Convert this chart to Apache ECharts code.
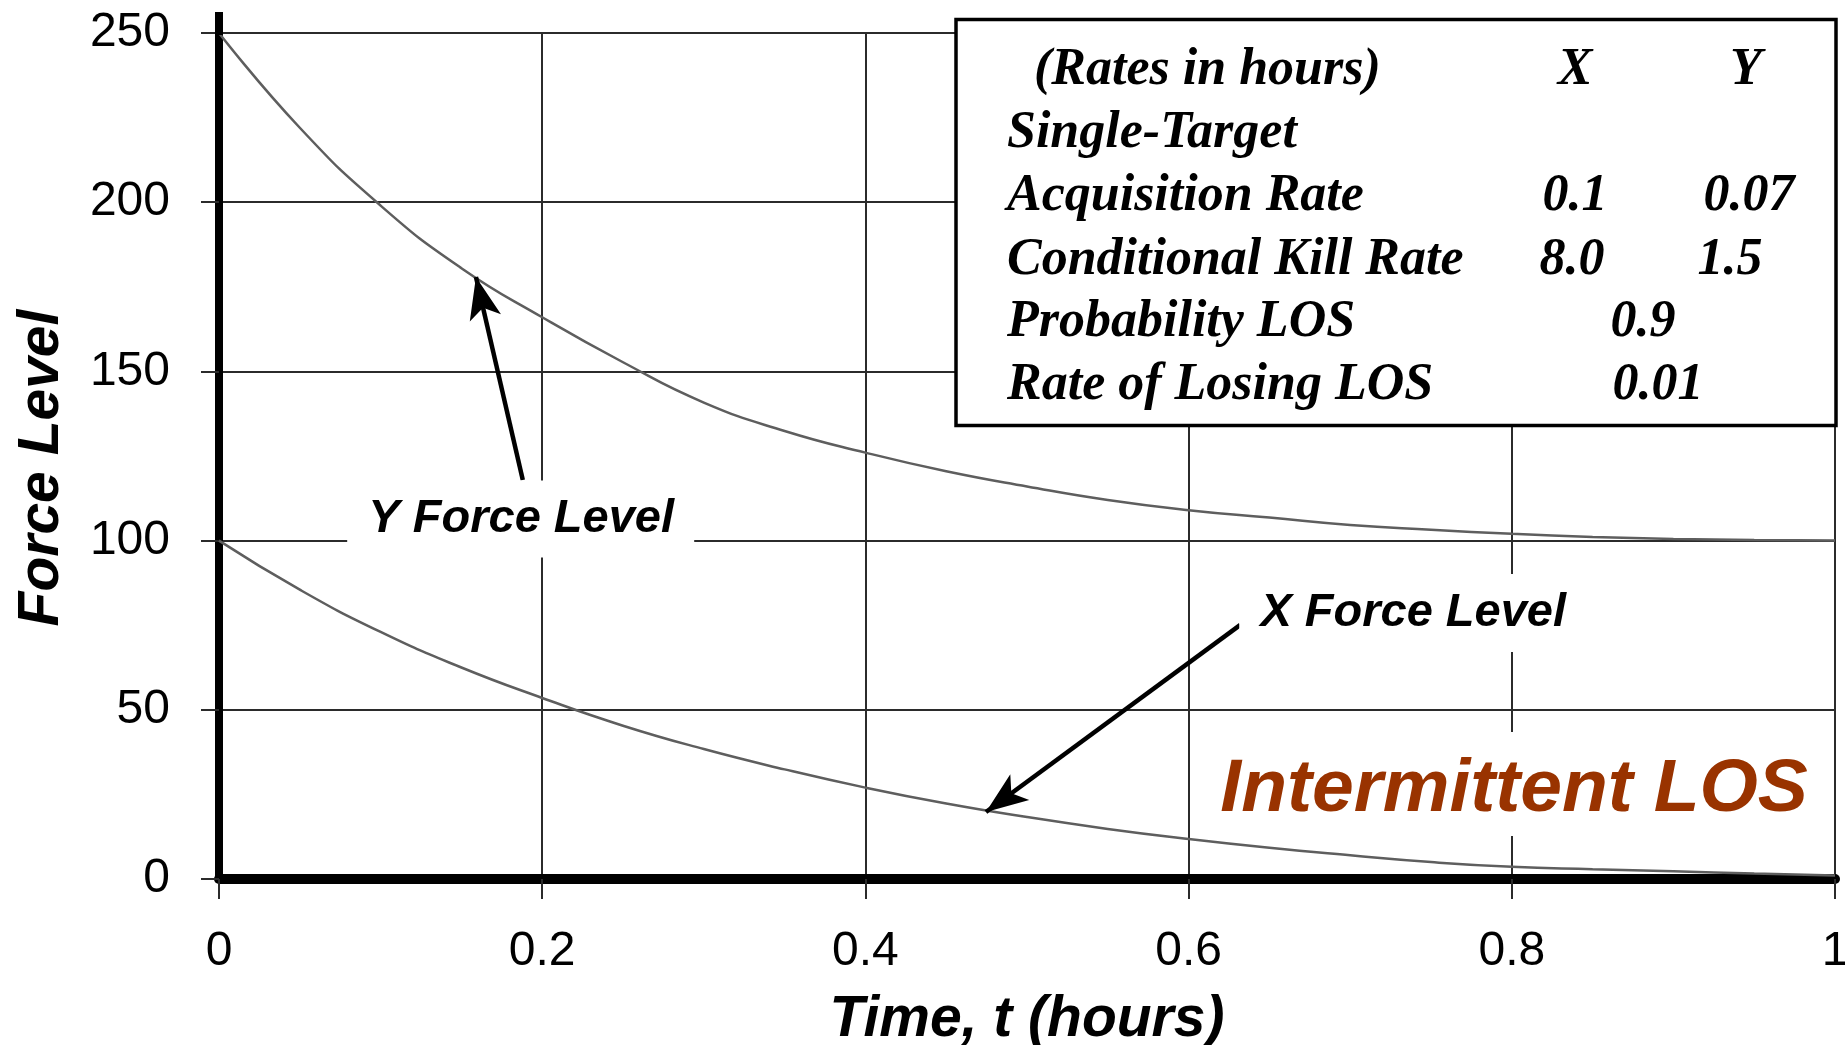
<!DOCTYPE html>
<html><head><meta charset="utf-8">
<script src="https://cdn.jsdelivr.net/npm/echarts@6/dist/echarts.min.js"></script>
<style>html,body{margin:0;padding:0;background:#fff}#c{width:1845px;height:1045px}</style>
</head><body><div id="c"></div>
<script>
// ---- data ----
const timeHours = [0,0.05,0.10,0.15,0.20,0.25,0.30,0.35,0.40,0.45,0.50,0.55,0.60,0.65,0.70,0.75,0.80,0.85,0.90,0.95,1.00];
const yForceLevel = [250,222,199,180.5,166,152.7,140.8,132.4,126,120.5,116,112,109,106.8,104.6,103.2,102,101.1,100.5,100.2,100];
const xForceLevel = [100,85.5,73,62.5,53.5,45.3,38.4,32.4,27,22.3,18.3,14.8,11.8,9.2,7,5,3.6,2.9,2.3,1.6,1];
const xTickLabels = ['0','0.2','0.4','0.6','0.8','1'];
const yTickLabels = ['0','50','100','150','200','250'];
const tableLabels = ['(Rates in hours)','Single-Target','Acquisition Rate','Conditional Kill Rate','Probability LOS','Rate of Losing LOS'];
const tableXCol = ['X','','0.1','8.0','',''];
const tableYCol = ['Y','','0.07','1.5','',''];
const tableShared = ['','','','','0.9','0.01'];
// annotation anchors in data coordinates [t, level]
const yArrow = [[0.188,117.9],[0.159,177.9]];
const xArrow = [[0.632,75.1],[0.4746,19.8]];
const yNoteAt = [0.187,106.5];
const xNoteAt = [0.739,78.6];
const losNoteAt = [0.8014,26.3];

// ---- layout / style ----
const SANS = '"Liberation Sans", Arial, sans-serif';
const SERIF = '"Liberation Serif", "Times New Roman", serif';
const gridColor = '#2b2b2b';
const tableLayout = {
  box: {x:956, y:19.5, w:880, h:406},
  labelX: [1034,1007,1007,1007,1007,1007],
  rowY: [71,134,197,261,323,386],
  xColX: [1575,0,1575,1572,0,0],
  yColX: [1746,0,1749,1730,0,0],
  sharedX: [0,0,0,0,1643,1658]
};

const chart = echarts.init(document.getElementById('c'), null, {renderer:'canvas'});
const pair = (xs, ys) => xs.map((t,i)=>[t, ys[i]]);

chart.setOption({
  animation:false,
  backgroundColor:'#fff',
  grid:{left:219, right:10, top:33, bottom:166, containLabel:false, outerBoundsMode:'none'},
  xAxis:{
    type:'value', min:0, max:1, interval:0.2,
    name:'Time, t (hours)', nameLocation:'middle', nameGap:113,
    nameTextStyle:{fontFamily:SANS, fontSize:57, fontStyle:'italic', fontWeight:'bold', color:'#000'},
    axisLine:{show:true, onZero:false, lineStyle:{color:'#000', width:10}},
    axisTick:{show:true, length:20, lineStyle:{color:gridColor, width:2}},
    axisLabel:{margin:49, fontFamily:SANS, fontSize:48, color:'#000',
      formatter:(v)=>{const i=Math.round(v/0.2); return xTickLabels[i]!==undefined?xTickLabels[i]:'';}},
    splitLine:{show:true, lineStyle:{color:gridColor, width:2}}
  },
  yAxis:{
    type:'value', min:0, max:250, interval:50,
    name:'Force Level', nameLocation:'middle', nameGap:148, nameRotate:90,
    nameTextStyle:{fontFamily:SANS, fontSize:57, fontStyle:'italic', fontWeight:'bold', color:'#000', padding:[0,24,0,0]},
    axisLine:{show:true, onZero:false, lineStyle:{color:'#000', width:8}},
    axisTick:{show:true, length:18, lineStyle:{color:gridColor, width:2}},
    axisLabel:{margin:49, fontFamily:SANS, fontSize:48, color:'#000',
      formatter:(v)=>{const i=Math.round(v/50); return yTickLabels[i]!==undefined?yTickLabels[i]:'';}},
    splitLine:{show:true, lineStyle:{color:gridColor, width:2}}
  },
  series:[
    {name:'Y Force Level', type:'line', data:pair(timeHours,yForceLevel), smooth:0.5,
     showSymbol:false, symbol:'none', lineStyle:{color:'#5e5e5e', width:2.5}, z:3,
     markLine:{silent:true, symbol:['none','arrow'], symbolSize:[24,42], label:{show:false},
       lineStyle:{color:'#000', width:4.5, type:'solid'},
       data:[[{coord:yArrow[0]},{coord:yArrow[1]}]]}},
    {name:'X Force Level', type:'line', data:pair(timeHours,xForceLevel), smooth:0.5,
     showSymbol:false, symbol:'none', lineStyle:{color:'#5e5e5e', width:2.5}, z:3,
     markLine:{silent:true, symbol:['none','arrow'], symbolSize:[24,42], label:{show:false},
       lineStyle:{color:'#000', width:4.5, type:'solid'},
       data:[[{coord:xArrow[0]},{coord:xArrow[1]}]]}}
  ]
});

function px(p){ return chart.convertToPixel({gridIndex:0}, p); }
const yN = px(yNoteAt), xN = px(xNoteAt), lN = px(losNoteAt);
const topLeft = px([0,250]);
const g = [];
// y-axis line extends slightly above the top gridline
g.push({type:'line', z:40, shape:{x1:topLeft[0], y1:topLeft[1]-21, x2:topLeft[0], y2:topLeft[1]+2}, style:{stroke:'#000', lineWidth:8}});
// white boxes behind annotations
g.push({type:'rect', z:50, shape:{x:yN[0]-174, y:yN[1]-38, width:347, height:77}, style:{fill:'#fff'}});
g.push({type:'text', z:51, x:yN[0], y:yN[1], style:{text:'Y Force Level', font:'italic bold 47px '+SANS, fill:'#000', align:'center', verticalAlign:'middle'}});
g.push({type:'rect', z:50, shape:{x:xN[0]-174, y:xN[1]-39, width:347, height:78}, style:{fill:'#fff'}});
g.push({type:'text', z:51, x:xN[0], y:xN[1], style:{text:'X Force Level', font:'italic bold 47px '+SANS, fill:'#000', align:'center', verticalAlign:'middle'}});
g.push({type:'rect', z:50, shape:{x:lN[0]-298, y:lN[1]-58, width:605, height:104}, style:{fill:'#fff'}});
g.push({type:'text', z:51, x:lN[0], y:lN[1], style:{text:'Intermittent LOS', font:'italic bold 75px '+SANS, fill:'#993300', align:'center', verticalAlign:'middle'}});
// parameter table
const b = tableLayout.box;
g.push({type:'rect', z:60, shape:{x:b.x, y:b.y, width:b.w, height:b.h}, style:{fill:'#fff', stroke:'#000', lineWidth:3.5}});
const tf = 'italic bold 52px '+SERIF;
tableLabels.forEach((t,i)=>{
  g.push({type:'text', z:61, x:tableLayout.labelX[i], y:tableLayout.rowY[i], style:{text:t, font:tf, fill:'#000', align:'left', verticalAlign:'middle'}});
  if(tableXCol[i]) g.push({type:'text', z:61, x:tableLayout.xColX[i], y:tableLayout.rowY[i], style:{text:tableXCol[i], font:tf, fill:'#000', align:'center', verticalAlign:'middle'}});
  if(tableYCol[i]) g.push({type:'text', z:61, x:tableLayout.yColX[i], y:tableLayout.rowY[i], style:{text:tableYCol[i], font:tf, fill:'#000', align:'center', verticalAlign:'middle'}});
  if(tableShared[i]) g.push({type:'text', z:61, x:tableLayout.sharedX[i], y:tableLayout.rowY[i], style:{text:tableShared[i], font:tf, fill:'#000', align:'center', verticalAlign:'middle'}});
});
chart.setOption({graphic:{elements:g}});
</script></body></html>
